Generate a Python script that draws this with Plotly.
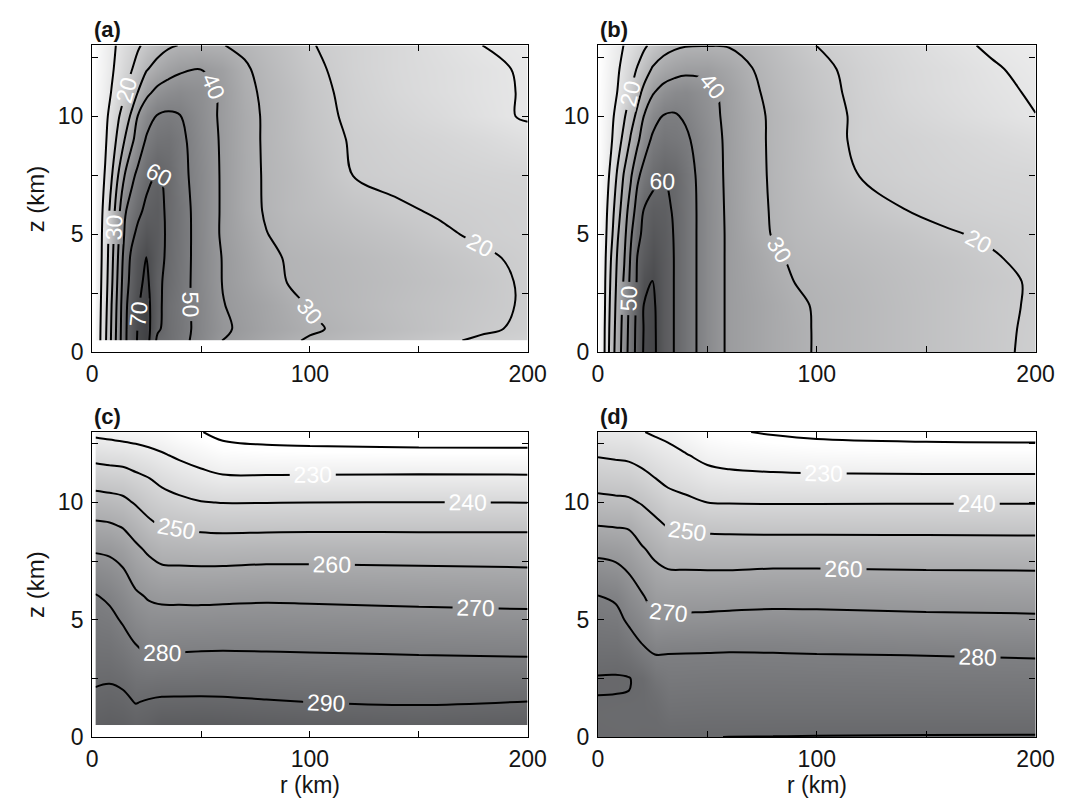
import numpy as np
import plotly.graph_objects as go

# ---------------- data ----------------
# tangential wind (m/s), panels (a) and (b): rows = heights, columns = radii
r_a = [1.5, 3, 6, 9, 12, 15, 18, 21, 25, 30, 35, 40, 50, 60, 70, 80, 90, 100, 120, 140, 160, 180, 200]
z_a = [0.5, 1, 2, 3, 4, 5, 6, 7.5, 9, 10, 11, 12, 13]
v_a = [
    [3.6, 7.1, 18.2, 31.7, 45, 58.3, 65, 70.8, 74, 58, 56.4, 53.2, 46.5, 39.8, 37, 34, 31.2, 29.2, 26.4, 23.7, 21, 19, 17.5],
    [3.5, 7, 17.7, 31.3, 44.5, 58.2, 64.8, 70.4, 74, 61.5, 56.5, 53.7, 47, 41.2, 38.4, 35.5, 33.3, 31.0, 28.1, 25.7, 23.3, 20.8, 19],
    [3.3, 6.7, 16.5, 30.3, 43.5, 57.7, 64.2, 69.2, 73.5, 62.5, 56.2, 53.3, 46.9, 40.3, 37.6, 35, 32.1, 29.5, 27.3, 25.1, 23.3, 21.4, 19.4],
    [3.2, 6.4, 15.4, 28.6, 42.1, 56, 62.5, 67.5, 72, 62, 57.5, 53.9, 46.4, 39.7, 36.2, 32.8, 29.7, 29, 27.3, 25.6, 23.8, 21.7, 19.2],
    [3.1, 6.1, 14.6, 27.4, 40.6, 54.2, 61.5, 66.5, 70.4, 63.5, 58, 54.2, 46.4, 39.6, 35.6, 31.6, 29.4, 28.5, 26.8, 25, 23, 20.8, 18.8],
    [3, 6, 14, 26, 38.7, 51.1, 57.8, 62, 66, 64, 58.2, 54.4, 46.3, 38.8, 34.5, 30.2, 28, 27, 25, 23.2, 20.8, 19, 18],
    [2.9, 5.8, 12.9, 24, 37, 49, 53.6, 57.9, 62, 63.5, 58, 54.3, 46.2, 38.9, 33.3, 29.2, 27, 25.5, 23.1, 20.8, 19.4, 18.5, 17.8],
    [2.6, 5.2, 10.6, 19.4, 30.2, 40.2, 47.5, 52, 57.5, 61, 58.2, 53, 46, 38.9, 33.2, 29, 27, 24.6, 19.9, 18.6, 17.7, 17, 16.5],
    [2.2, 4.4, 8.8, 15.2, 22.5, 30.3, 37.5, 44.4, 51, 54.5, 55, 52.5, 45, 38.8, 33.1, 28.8, 26.2, 23.4, 19.3, 17.5, 16.2, 14.5, 12.3],
    [2, 4, 8, 13, 19, 25, 31.4, 40.3, 46.3, 50.6, 51.5, 50.5, 44.3, 38.5, 33, 28.8, 26, 22.9, 18.5, 16.3, 14.3, 11.8, 9.3],
    [1.7, 3.5, 6.9, 10.4, 14.9, 19.3, 24.5, 30.2, 38, 42.5, 44.5, 45.5, 43.5, 38.5, 32.2, 28.4, 25.6, 22.3, 18.1, 15.3, 13.3, 11.3, 9.5],
    [1.5, 3, 6, 9, 12.3, 15.9, 19.4, 23.6, 29.3, 33.5, 36.5, 38.5, 39.9, 37, 31, 27.5, 24.5, 21.5, 17.6, 15, 13.2, 11.3, 9.2],
    [1.4, 2.8, 5.6, 8.3, 11, 13.7, 16.2, 18.8, 22.4, 26, 28.8, 30.2, 30.5, 30.2, 28.5, 26, 23.5, 20.4, 17.5, 15, 12.5, 9.9, 8.5],
]

r_b = [0, 3, 6, 9, 12, 15, 18, 21, 25, 30, 35, 40, 50, 60, 70, 80, 90, 100, 120, 140, 160, 180, 200]
z_b = [0, 1, 2, 3, 4, 5, 6, 7.5, 9, 10, 11, 12, 13]
v_b = [
    [0, 10, 25, 35, 45, 55, 63, 71, 72.5, 64, 59.7, 54.5, 45.5, 38.5, 36, 33.5, 31.5, 29.5, 27.4, 25.3, 23.2, 21.1, 19.0],
    [0, 9.7, 24.1, 34.5, 44.1, 54.6, 62.7, 70.5, 72.3, 64, 59.7, 54.5, 45.5, 38.5, 36, 33.5, 31.5, 29.5, 27.4, 25.3, 23.2, 21.1, 19.2],
    [0, 9, 23, 33.8, 43, 53.9, 62.1, 70.2, 71.8, 64, 59.7, 54.5, 45.5, 38.5, 36, 33.5, 31, 29.5, 27.4, 25.3, 23.2, 21, 19.5],
    [0, 8.6, 21.7, 32.7, 41.3, 52.6, 61, 68, 70.2, 64, 59.7, 54.5, 45.5, 38.5, 35.5, 32.5, 29.9, 28.8, 27, 25, 23.2, 21.3, 19.4],
    [0, 7.9, 20.2, 31.4, 39.5, 51.2, 60.3, 64.5, 68, 64, 59.7, 54.5, 45.5, 38.5, 35, 31.5, 28.6, 27.6, 26, 24.3, 22.6, 20.5, 18.5],
    [0, 7.1, 17.5, 29.2, 37.4, 48.7, 57.7, 62, 65.5, 63.5, 59.5, 54.5, 45.5, 38.5, 33.8, 29.5, 27.5, 26.3, 24.5, 22.8, 20.5, 19.2, 18],
    [0, 6.5, 15.4, 26.4, 35.3, 44.8, 54, 60.5, 63, 62.5, 59, 54.5, 45.5, 38.3, 33.2, 29.2, 26.8, 25.2, 22.5, 20.1, 18.6, 17.6, 17],
    [0, 5.6, 12, 21.7, 31.2, 38.8, 48.3, 53, 57.5, 59.8, 58.5, 54, 45.2, 38, 33, 28.8, 26.2, 24, 19.8, 18.2, 17, 16.2, 15.8],
    [0, 4.5, 9, 15.7, 23.2, 31.1, 37.8, 45.7, 51.5, 53.8, 53, 51.5, 44.8, 37.8, 32.7, 28.7, 26, 23.5, 18.5, 17.5, 16, 14.5, 12.8],
    [0, 4, 8, 13, 19, 26.3, 32.2, 40.2, 46.5, 50.5, 50.8, 49, 43.6, 37.5, 32.5, 28.7, 26, 23.3, 18.6, 16.2, 14.2, 12.2, 10.1],
    [0, 3.5, 6.9, 10.3, 14.3, 20.3, 26.7, 32.5, 39.3, 43.5, 45.5, 46, 42.5, 37, 31.5, 28, 25, 22.5, 18.2, 15.2, 13.2, 11.3, 9.4],
    [0, 3, 6, 9, 12.7, 16.7, 20.6, 25.4, 30.9, 34.5, 36.5, 37.7, 37.8, 34.5, 30.3, 27, 24.3, 21.8, 17.8, 15, 13, 10.6, 8.5],
    [0, 2.6, 5.2, 7.8, 10.3, 12.9, 15.6, 18.4, 22.5, 26.5, 28.5, 29.5, 29.8, 29.5, 28, 25.5, 22.5, 19.9, 16.7, 14.2, 11.5, 9.2, 7.5],
]

# temperature (K), panels (c) and (d): one vertical profile per radius
r_c = [1.5, 8, 14, 20, 26, 32, 40, 50, 60, 80, 100, 150, 200]
z_c = [0.5, 1, 1.5, 2, 2.5, 3, 3.5, 4, 5, 6, 7, 8, 9, 10, 11, 12, 13]
t_c_profiles = [
    [294.2, 292.9, 291.6, 290.3, 289.1, 287.9, 286.6, 285.4, 282.9, 280.5, 275.2, 269.0, 261.7, 254.1, 245.9, 237.1, 227.9],
    [295.0, 293.6, 292.2, 290.8, 289.3, 287.9, 286.4, 285.0, 282.1, 278.6, 273.7, 268.3, 261.1, 253.4, 245.1, 236.3, 227.0],
    [294.5, 293.0, 291.5, 290.1, 288.2, 286.4, 284.6, 282.9, 279.2, 275.3, 271.3, 265.8, 259.4, 252.2, 244.5, 235.8, 226.1],
    [293.0, 291.5, 289.7, 287.7, 285.8, 283.8, 281.8, 279.8, 275.6, 271.4, 266.7, 261.8, 255.8, 249.2, 242.4, 234.3, 225.7],
    [294.0, 292.3, 290.6, 288.0, 285.3, 282.7, 280.1, 277.9, 273.6, 269.2, 264.0, 258.5, 252.1, 246.1, 240.4, 232.8, 224.9],
    [296.0, 293.6, 291.1, 288.5, 285.7, 283.0, 280.3, 277.9, 273.3, 268.2, 262.2, 256.0, 249.8, 243.9, 237.8, 231.0, 224.3],
    [296.2, 293.7, 291.2, 288.6, 285.8, 283.2, 280.5, 278.1, 273.3, 268.1, 262.0, 255.6, 249.1, 242.1, 235.3, 228.7, 222.0],
    [296.5, 293.9, 291.3, 288.6, 286.0, 283.4, 280.8, 278.3, 273.3, 268.0, 261.9, 255.2, 248.1, 240.4, 233.0, 226.3, 220.3],
    [296.3, 293.7, 291.1, 288.6, 286.0, 283.5, 280.9, 278.4, 273.5, 268.2, 262.0, 255.1, 247.7, 239.8, 231.3, 224.3, 217.5],
    [295.5, 293.0, 290.5, 288.0, 285.6, 283.2, 280.7, 278.3, 273.6, 268.6, 262.5, 255.6, 247.8, 239.8, 231.3, 223.5, 215.8],
    [295.0, 292.5, 289.9, 287.5, 285.2, 282.8, 280.5, 278.1, 273.4, 268.4, 262.5, 255.6, 248.0, 240.0, 231.5, 223.3, 215.1],
    [294.3, 291.8, 289.3, 287.0, 284.7, 282.3, 280.0, 277.6, 272.9, 267.7, 262.0, 255.4, 248.0, 240.1, 231.7, 223.0, 214.2],
    [295.2, 292.6, 290.1, 287.4, 284.8, 282.2, 279.6, 277.2, 272.4, 267.1, 261.5, 255.0, 248.1, 239.9, 231.6, 222.9, 214.0],
]

r_d = [0, 8, 14, 20, 26, 32, 40, 50, 60, 80, 100, 150, 200]
z_d = [0, 0.5, 1, 1.5, 2, 2.5, 3, 3.5, 4, 5, 6, 7, 8, 9, 10, 11, 12, 13]
t_d_profiles = [
    [289.6, 289.4, 289.3, 289.5, 290.4, 290.3, 289.1, 287.6, 286.1, 283.2, 280.2, 274.2, 267.5, 260.0, 252.6, 245.9, 239.5, 232.8],
    [289.5, 289.3, 289.2, 289.4, 290.3, 290.3, 289.3, 287.6, 285.9, 282.6, 278.8, 272.9, 266.5, 259.5, 252.0, 245.3, 238.8, 232.2],
    [289.4, 289.2, 289.1, 289.3, 290.05, 290.2, 288.3, 285.9, 283.4, 278.7, 274.3, 269.9, 264.6, 259.1, 251.5, 244.8, 238.3, 231.8],
    [289.6, 289.3, 289.1, 289.1, 289.2, 288.8, 285.8, 282.8, 279.9, 275.4, 270.8, 266.0, 261.0, 255.3, 249.4, 242.9, 236.6, 230.4],
    [289.7, 289.2, 288.8, 288.0, 286.6, 284.6, 282.3, 280.1, 277.1, 271.3, 266.7, 262.4, 257.7, 252.4, 246.5, 240.3, 234.5, 228.9],
    [289.7, 288.4, 287.0, 285.6, 284.3, 282.9, 281.6, 280.2, 277.5, 271.5, 266.1, 260.9, 255.2, 249.4, 243.5, 237.9, 232.8, 227.7],
    [289.9, 288.5, 287.1, 285.8, 284.4, 283.0, 281.7, 280.3, 277.7, 271.7, 266.2, 260.8, 254.8, 248.7, 242.0, 236.1, 230.6, 225.0],
    [289.95, 288.6, 287.3, 285.9, 284.5, 283.2, 281.8, 280.4, 277.9, 271.9, 266.2, 260.7, 254.5, 247.8, 240.0, 233.5, 227.6, 222.2],
    [290.02, 288.6, 287.3, 285.9, 284.6, 283.2, 281.9, 280.5, 278.2, 272.2, 266.5, 260.7, 254.4, 247.5, 239.6, 232.5, 226.4, 220.8],
    [290.08, 288.7, 287.3, 285.9, 284.6, 283.2, 281.8, 280.4, 278.1, 272.6, 266.9, 261.2, 254.5, 247.3, 239.5, 231.9, 225.4, 219.2],
    [290.15, 288.8, 287.3, 285.9, 284.5, 283.1, 281.6, 280.2, 277.8, 272.4, 267.0, 261.2, 254.5, 247.3, 239.5, 231.7, 224.7, 218.0],
    [290.25, 288.8, 287.3, 285.8, 284.3, 282.8, 281.3, 279.9, 277.1, 271.8, 266.4, 260.8, 254.3, 247.2, 239.6, 231.6, 224.2, 217.0],
    [290.3, 288.8, 287.2, 285.7, 284.2, 282.6, 281.1, 279.5, 276.6, 271.4, 266.0, 260.6, 254.1, 247.1, 239.6, 231.6, 224.1, 216.7],
]

# contour levels: labelled and unlabelled
wind_labelled = (20, 70)
wind_plain = 10
temp_labelled = (230, 290)
temp_plain = 220

x_ticks = [0, 50, 100, 150, 200]
x_ticktext = ["0", "", "100", "", "200"]
y_ticks = [0, 2.5, 5, 7.5, 10, 12.5]
y_ticktext = ["0", "", "5", "", "10", ""]
panel_tags = ["(a)", "(b)", "(c)", "(d)"]

# ---------------- figure ----------------
FONT = "Liberation Sans"
INK = "#141414"
W, H = 1069, 804
gray = [[0, "rgb(255,255,255)"], [0.5, "rgb(126,127,130)"], [1, "rgb(0,0,2)"]]

xdom = [[80 / W, 526 / W], [598 / W, 1046 / W]]
ydom = [[1 - 350 / H, 1 - 38 / H], [1 - 741 / H, 1 - 431 / H]]

fields = [
    (r_a, z_a, np.array(v_a), wind_labelled, wind_plain, 0, 100),
    (r_b, z_b, np.array(v_b), wind_labelled, wind_plain, 0, 100),
    (r_c, z_c, np.array(t_c_profiles).T, temp_labelled, temp_plain, 222, 338),
    (r_d, z_d, np.array(t_d_profiles).T, temp_labelled, temp_plain, 222, 338),
]

fig = go.Figure()
layout = {}
for i, (xx, yy, zz, lab, plain, zmin, zmax) in enumerate(fields):
    ax = "" if i == 0 else str(i + 1)
    xa, ya = "x" + ax, "y" + ax
    # shading
    fig.add_trace(go.Contour(
        x=xx, y=yy, z=zz, xaxis=xa, yaxis=ya,
        colorscale=gray, zmin=zmin, zmax=zmax, zauto=False, showscale=False,
        contours=dict(start=plain, end=lab[1], size=10, coloring="heatmap", showlines=False),
        line=dict(width=0), hoverinfo="skip",
    ))
    # unlabelled contour
    fig.add_trace(go.Contour(
        x=xx, y=yy, z=zz, xaxis=xa, yaxis=ya, showscale=False,
        contours=dict(start=plain, end=plain + 0.5, size=10, coloring="none", showlabels=False),
        line=dict(color="black", width=2), hoverinfo="skip",
    ))
    # labelled contours
    fig.add_trace(go.Contour(
        x=xx, y=yy, z=zz, xaxis=xa, yaxis=ya, showscale=False,
        contours=dict(start=lab[0], end=lab[1], size=10, coloring="none",
                      showlabels=True,
                      labelfont=dict(family=FONT, size=23, color="white")),
        line=dict(color="black", width=2), hoverinfo="skip",
    ))
    col, row = i % 2, i // 2
    common = dict(showline=True, linecolor="black", linewidth=1.2, mirror="ticks",
                  ticks="inside", ticklen=6, tickwidth=1, tickcolor="black",
                  showgrid=False, zeroline=False,
                  tickfont=dict(family=FONT, size=23, color=INK))
    layout["xaxis" + ax] = dict(domain=xdom[col], range=[0, 200], tickvals=x_ticks,
                                ticktext=x_ticktext, anchor=ya,
                                ticklabelstandoff=1, **common)
    layout["yaxis" + ax] = dict(domain=ydom[row], range=[0, 13], tickvals=y_ticks,
                                ticktext=y_ticktext, anchor=xa,
                                ticklabelstandoff=3, **common)

annotations = []
for i, tag in enumerate(panel_tags):
    col, row = i % 2, i // 2
    ytop = [38, 431][row]
    annotations.append(dict(text="<b>%s</b>" % tag, xref="paper", yref="paper",
                            x=xdom[col][0], y=1 - (ytop - 16) / H, xanchor="left",
                            yanchor="middle", showarrow=False,
                            font=dict(family=FONT, size=22, color=INK)))
for row in range(2):
    yc = (ydom[row][0] + ydom[row][1]) / 2
    annotations.append(dict(text="z (km)", xref="paper", yref="paper", x=22 / W, y=yc,
                            xanchor="center", yanchor="middle", textangle=-90,
                            showarrow=False, font=dict(family=FONT, size=24, color=INK)))
for col in range(2):
    xc = (xdom[col][0] + xdom[col][1]) / 2
    annotations.append(dict(text="r (km)", xref="paper", yref="paper", x=xc, y=0,
                            xanchor="center", yanchor="bottom", yshift=-1, showarrow=False,
                            font=dict(family=FONT, size=23, color=INK)))

fig.update_layout(width=W, height=H, margin=dict(l=0, r=0, t=0, b=0),
                  paper_bgcolor="white", plot_bgcolor="white", showlegend=False,
                  annotations=annotations, **layout)
fig.write_html("out.html")
